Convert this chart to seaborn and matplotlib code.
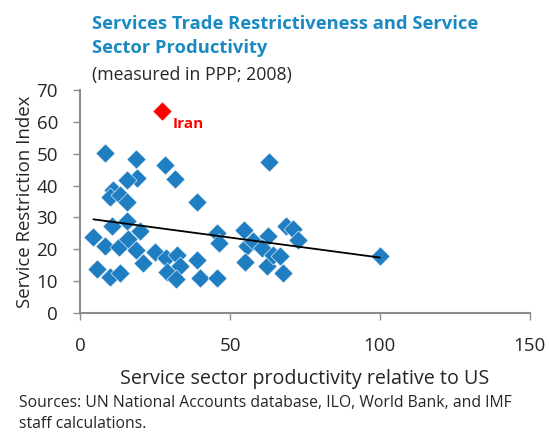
import pandas as pd
import seaborn as sns
import matplotlib.pyplot as plt
import numpy as np

# productivity relative to US (x) and restriction index (y)
productivity = [8.2, 18.7, 19.1, 15.6, 11.1, 10.0, 13.3, 15.6, 28.4, 31.6,
                39.1, 10.6, 15.6, 20.0, 4.4, 8.3, 12.8, 16.1, 18.7, 20.9,
                25.1, 28.7, 32.2, 33.3, 29.1, 32.0, 38.9, 40.0, 45.6, 45.8,
                46.2, 5.6, 9.8, 13.3, 63.1, 54.8, 55.6, 55.0, 57.8, 62.8,
                60.6, 62.2, 64.4, 66.7, 67.8, 68.7, 70.9, 72.6, 100.0]
restriction = [50.1, 48.3, 42.5, 41.6, 38.7, 36.4, 37.1, 35.0, 46.6, 42.2,
               34.7, 27.4, 28.9, 25.8, 23.9, 21.2, 20.9, 23.3, 19.7, 15.7,
               19.1, 17.3, 18.3, 14.7, 12.8, 10.7, 16.8, 10.9, 11.1, 25.1,
               22.0, 14.0, 11.5, 12.6, 47.5, 26.2, 21.2, 16.2, 22.5, 24.1,
               20.4, 14.7, 18.3, 18.0, 12.6, 27.2, 26.4, 22.8, 17.8]

iran_x = [27.3]
iran_y = [63.5]

df = pd.DataFrame({"productivity": productivity, "restriction": restriction})
# trend line is fitted on all countries, Iran included
df_all = pd.DataFrame({"productivity": productivity + iran_x,
                       "restriction": restriction + iran_y})

sns.set_theme(style="white")
plt.rcParams['font.family'] = ['Open Sans', 'DejaVu Sans']

fig = plt.figure(figsize=(5.49, 4.32), dpi=100)
ax = fig.add_axes([0.146, 0.275, 0.819, 0.517])

blue = "#1F7DC1"
sns.scatterplot(data=df, x="productivity", y="restriction", marker="D", s=95,
                color=blue, edgecolor="white", linewidth=0.4, ax=ax, zorder=2)
sns.regplot(data=df_all, x="productivity", y="restriction", scatter=False, ci=None,
            truncate=True, line_kws={"color": "black", "lw": 1.3}, ax=ax)
ax.scatter(iran_x, iran_y, marker="D", s=95, color="#FF0000", edgecolor="white",
           linewidth=0.4, zorder=3)
ax.text(iran_x[0] + 3.5, 59.2, "Iran", color="#FF0000", fontsize=11,
        fontweight="bold", va="center", ha="left")

ax.set_xlim(0, 150)
ax.set_ylim(0, 70)
ax.set_xticks([0, 50, 100, 150])
ax.set_yticks(range(0, 71, 10))
ax.set_xlabel("Service sector productivity relative to US", fontsize=14.2, labelpad=10)
ax.set_ylabel("Service Restriction Index", fontsize=13.4, labelpad=2)
ax.tick_params(axis="both", labelsize=13.5, direction="out", length=5, width=1,
               color="#8C8C8C", left=True, bottom=True)
ax.tick_params(axis="x", pad=12)
ax.tick_params(axis="y", pad=11)

for side in ["top", "right"]:
    ax.spines[side].set_visible(False)
for side in ["left", "bottom"]:
    ax.spines[side].set_color("#8C8C8C")
    ax.spines[side].set_linewidth(1.5)

fig.text(0.168, 0.965, "Services Trade Restrictiveness and Service\nSector Productivity",
         color="#1A8AC2", fontsize=13.2, fontweight="bold", va="top", ha="left",
         linespacing=1.45)
fig.text(0.168, 0.826, "(measured in PPP; 2008)", fontsize=12.7, va="center", ha="left")
fig.text(0.035, 0.042, "Sources: UN National Accounts database, ILO, World Bank, and IMF\nstaff calculations.",
         fontsize=11.3, va="center", ha="left", linespacing=1.4)

fig.savefig("out.png", dpi=100)
